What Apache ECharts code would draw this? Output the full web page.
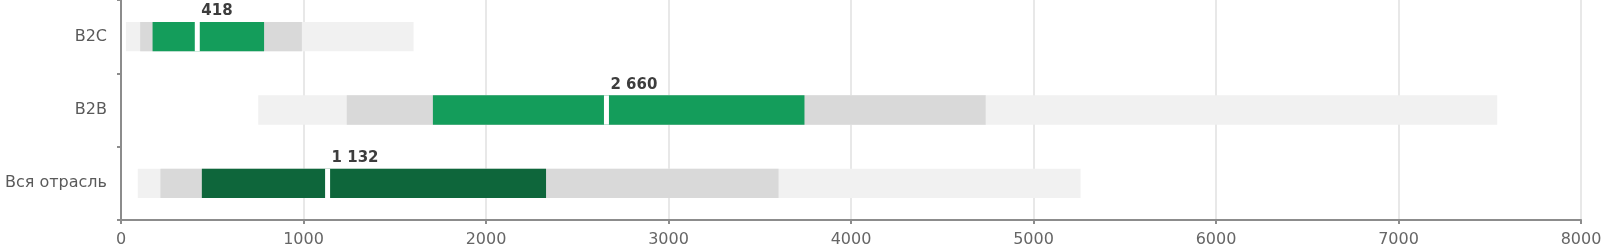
<!DOCTYPE html>
<html>
<head>
<meta charset="utf-8">
<script src="https://cdn.jsdelivr.net/npm/echarts@6/dist/echarts.min.js"></script>
<style>
html,body{margin:0;padding:0;background:#fff;}
#chart{width:1606px;height:251px;}
</style>
</head>
<body>
<div id="chart"></div>
<script>
// Categories (bottom to top on the y axis)
var categories = ['Вся отрасль', 'B2B', 'B2C'];
// Range boundaries
var lightStart = [92, 752, 27];
var grayStart  = [216, 1237, 105];
var greenStart = [443, 1709, 173];
var medians    = [1132, 2660, 418];
var greenEnd   = [2329, 3745, 784];
var grayEnd    = [3603, 4738, 991];
var lightEnd   = [5258, 7541, 1603];
var greenColors = ['#0e663b', '#149d5b', '#149d5b'];
var xTicks = [0, 1000, 2000, 3000, 4000, 5000, 6000, 7000, 8000];

function fmt(v) {
  return String(v).replace(/\B(?=(\d{3})+(?!\d))/g, ' ');
}

var seriesData = categories.map(function (c, i) {
  return [i, lightStart[i], grayStart[i], greenStart[i], medians[i], greenEnd[i], grayEnd[i], lightEnd[i]];
});

var chart = echarts.init(document.getElementById('chart'), null, {renderer: 'canvas'});
chart.setOption({
  animation: false,
  grid: {left: 121, right: 25, top: 0, bottom: 31, containLabel: false, outerBoundsMode: 'none'},
  xAxis: {
    type: 'value',
    min: xTicks[0],
    max: xTicks[xTicks.length - 1],
    interval: 1000,
    axisLine: {show: true, lineStyle: {color: '#8c8c8c', width: 2}},
    axisTick: {show: true, length: 4, lineStyle: {color: '#8c8c8c', width: 2}},
    axisLabel: {
      color: '#666666', fontSize: 16, fontFamily: 'DejaVu Sans', margin: 12,
      formatter: function (v) { return String(v); }
    },
    splitLine: {show: true, lineStyle: {color: '#e0e0e0', width: 1.5}}
  },
  yAxis: {
    type: 'category',
    data: categories,
    axisLine: {show: true, lineStyle: {color: '#8c8c8c', width: 2}},
    axisTick: {show: true, length: 4, lineStyle: {color: '#8c8c8c', width: 2}},
    axisLabel: {color: '#5a5a5a', fontSize: 16, fontFamily: 'DejaVu Sans', margin: 14},
    splitLine: {show: false}
  },
  series: [{
    type: 'custom',
    data: seriesData,
    encode: {x: [1, 7], y: 0},
    renderItem: function (params, api) {
      var cat = api.value(0);
      var bandH = api.size([0, 1])[1];
      var h = bandH * 0.4;
      function seg(a, b, color) {
        var p1 = api.coord([api.value(a), cat]);
        var p2 = api.coord([api.value(b), cat]);
        return {
          type: 'rect',
          shape: {x: p1[0], y: p1[1] - h / 2, width: p2[0] - p1[0], height: h},
          style: {fill: color}
        };
      }
      var idx = params.dataIndex;
      var m = api.coord([api.value(4), cat]);
      return {
        type: 'group',
        children: [
          seg(1, 7, '#f1f1f1'),
          seg(2, 6, '#d9d9d9'),
          seg(3, 5, greenColors[idx]),
          {
            type: 'rect',
            shape: {x: m[0] - 2.5, y: m[1] - h / 2, width: 5, height: h},
            style: {fill: '#ffffff'}
          },
          {
            type: 'text',
            style: {
              text: fmt(api.value(4)),
              x: m[0] + 4,
              y: m[1] - h / 2 - 3,
              align: 'left',
              verticalAlign: 'bottom',
              font: 'bold 15px "DejaVu Sans"',
              fill: '#3d3d3d'
            }
          }
        ]
      };
    }
  }]
});
</script>
</body>
</html>
